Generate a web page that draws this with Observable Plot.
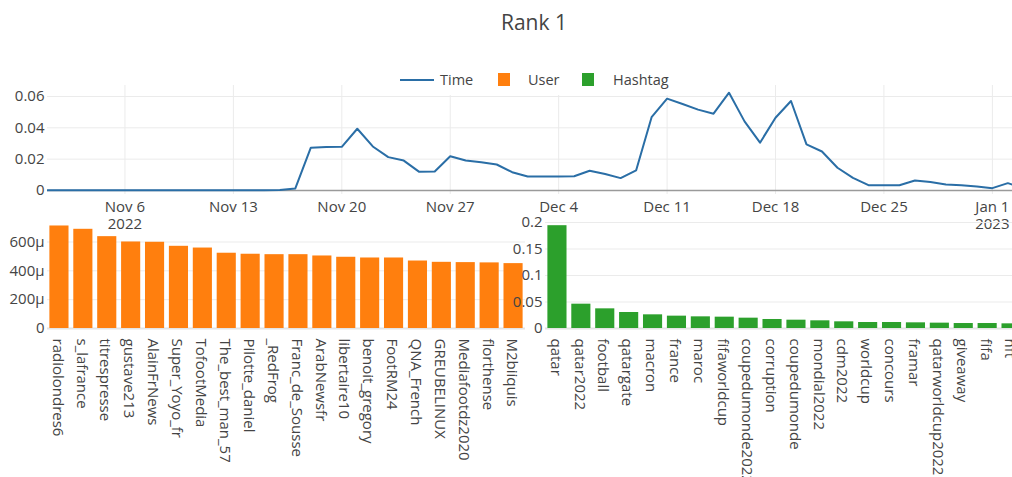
<!DOCTYPE html>
<html>
<head>
<meta charset="utf-8">
<script src="https://cdn.jsdelivr.net/npm/d3@7"></script>
<script src="https://cdn.jsdelivr.net/npm/@observablehq/plot@0.6"></script>
<style>
  html, body { margin: 0; padding: 0; background: #fff; overflow: hidden; }
  #wrap { position: relative; width: 1012px; height: 477px; overflow: hidden; font-family: "Open Sans", sans-serif; color: #444; }
  .chart { position: absolute; }
  #title { position: absolute; left: 434px; width: 200px; top: 7px; text-align: center; font-size: 21px; line-height: 30px; color: #444; }
  #legendbox { position: absolute; left: 393px; top: 66px; width: 284px; height: 29px; background: #fff; }
  .lg { position: absolute; font-size: 14.5px; line-height: 20px; top: 70px; color: #444; white-space: nowrap; }
  .sw { position: absolute; }
</style>
</head>
<body>
<div id="wrap">
  <div id="topChart" class="chart" style="left:0;top:60px;width:1012px"></div>
  <div id="userChart" class="chart" style="left:0;top:200px;width:545px"></div>
  <div id="tagChart" class="chart" style="left:500px;top:200px;width:523px"></div>
  <div id="legendbox"></div>
  <div id="legend"></div>
  <div id="title">Rank 1</div>
</div>
<script>
// ---- data ----
const dates = [
  "2022-11-01","2022-11-02","2022-11-03","2022-11-04","2022-11-05","2022-11-06","2022-11-07","2022-11-08","2022-11-09","2022-11-10",
  "2022-11-11","2022-11-12","2022-11-13","2022-11-14","2022-11-15","2022-11-16","2022-11-17","2022-11-18","2022-11-19","2022-11-20",
  "2022-11-21","2022-11-22","2022-11-23","2022-11-24","2022-11-25","2022-11-26","2022-11-27","2022-11-28","2022-11-29","2022-11-30",
  "2022-12-01","2022-12-02","2022-12-03","2022-12-04","2022-12-05","2022-12-06","2022-12-07","2022-12-08","2022-12-09","2022-12-10",
  "2022-12-11","2022-12-12","2022-12-13","2022-12-14","2022-12-15","2022-12-16","2022-12-17","2022-12-18","2022-12-19","2022-12-20",
  "2022-12-21","2022-12-22","2022-12-23","2022-12-24","2022-12-25","2022-12-26","2022-12-27","2022-12-28","2022-12-29","2022-12-30",
  "2022-12-31","2023-01-01","2023-01-02","2023-01-03"
];
const timeValues = [
  0.0001,0.0001,0.0001,0.0001,0.0002,0.0002,0.0002,0.0002,0.0002,0.0001,
  0.0001,0.0001,0.0001,0.0001,0.0002,0.0003,0.0013,0.0273,0.0278,0.0279,
  0.0394,0.0281,0.0213,0.0191,0.0119,0.0121,0.0219,0.0191,0.0181,0.0166,
  0.0117,0.0089,0.0090,0.0090,0.0091,0.0126,0.0105,0.0079,0.0128,0.0468,
  0.0586,0.0552,0.0516,0.0490,0.0624,0.0441,0.0305,0.0464,0.0571,0.0294,
  0.0249,0.0145,0.0081,0.0034,0.0034,0.0034,0.0064,0.0054,0.0039,0.0034,
  0.0026,0.0015,0.0047,0.0015
];
const timeTickDates = ["2022-11-06","2022-11-13","2022-11-20","2022-11-27","2022-12-04","2022-12-11","2022-12-18","2022-12-25","2023-01-01"];
const timeTickLabels = ["Nov 6\n2022","Nov 13","Nov 20","Nov 27","Dec 4","Dec 11","Dec 18","Dec 25","Jan 1\n2023"];
const timeYTicks = [0, 0.02, 0.04, 0.06];

const users = ["radiolondres6","s_lafrance","titrespresse","gustave213","AlainFrNews","Super_Yoyo_fr","TofootMedia","The_best_man_57","Pilotte_daniel","_RedFrog",
  "Franc_de_Sousse","ArabNewsfr","libertaire10","benoit_gregory","FootRM24","QNA_French","GREUBELINUX","Mediafootdz2020","florthense","M2biiquis"];
const userValues = [0.000711,0.000688,0.000637,0.000600,0.000598,0.000570,0.000558,0.000522,0.000515,0.000512,
  0.000512,0.000503,0.000494,0.000489,0.000489,0.000468,0.000459,0.000457,0.000455,0.000450];
const userYTicks = [0, 0.0002, 0.0004, 0.0006];

const hashtags = ["qatar","qatar2022","football","qatargate","macron","france","maroc","fifaworldcup","coupedumonde2022","corruption",
  "coupedumonde","mondial2022","cdm2022","worldcup","concours","framar","qatarworldcup2022","giveaway","fifa","nft"];
const hashtagValues = [0.194,0.0459,0.0371,0.0302,0.0258,0.0233,0.0220,0.0214,0.0195,0.0170,
  0.0157,0.0145,0.0126,0.0113,0.0113,0.0107,0.0101,0.0094,0.0094,0.0088];
const hashtagYTicks = [0, 0.05, 0.1, 0.15, 0.2];

const legendNames = ["Time","User","Hashtag"];
const colors = {Time: "#2a6ea6", User: "#ff7f0e", Hashtag: "#2ca02c"};

// ---- tables ----
const timeData = dates.map((d, i) => ({date: new Date(d + "T00:00:00Z"), value: timeValues[i]}));
const tickDates = timeTickDates.map(d => new Date(d + "T00:00:00Z"));
const tickLabelMap = new Map(tickDates.map((d, i) => [+d, timeTickLabels[i]]));
const userData = users.map((u, i) => ({name: u, value: userValues[i]}));
const tagData = hashtags.map((h, i) => ({name: h, value: hashtagValues[i]}));

const baseStyle = {background: "transparent", overflow: "visible", maxWidth: "none", color: "#444", fontFamily: "'Open Sans', sans-serif", fontSize: "15px"};
const grid = "#ebebeb";

// ---- top: time line ----
const timePlot = Plot.plot({
  width: 1012, height: 180,
  marginLeft: 47, marginRight: 0, marginTop: 25, marginBottom: 46,
  style: baseStyle,
  x: {type: "utc", domain: [new Date("2022-11-01T00:00:00Z"), new Date("2023-01-02T07:12:00Z")]},
  y: {domain: [-0.00255, 0.067]},
  marks: [
    Plot.gridY(timeYTicks.filter(d => d > 0), {stroke: grid, strokeOpacity: 1, strokeWidth: 1}),
    Plot.gridX(tickDates, {stroke: grid, strokeOpacity: 1, strokeWidth: 1}),
    Plot.ruleY([0], {stroke: "#9a9a9a", strokeWidth: 1.5}),
    Plot.lineY(timeData, {x: "date", y: "value", stroke: colors.Time, strokeWidth: 2, clip: true}),
    Plot.axisY({ticks: timeYTicks, tickFormat: d3.format("~g"), tickSize: 0, tickPadding: 3, fontSize: 15, label: null}),
    Plot.axisX({ticks: tickDates, tickFormat: d => tickLabelMap.get(+d), tickSize: 0, tickPadding: 5.5, fontSize: 15, lineHeight: 1.13, label: null})
  ]
});
document.getElementById("topChart").append(timePlot);

// ---- bottom-left: users ----
const userPlot = Plot.plot({
  width: 545, height: 277,
  marginLeft: 47, marginRight: 20, marginTop: 20, marginBottom: 149,
  style: baseStyle,
  x: {domain: users, paddingInner: 0.2, paddingOuter: 0.1, round: false},
  y: {domain: [0, 0.000749]},
  marks: [
    Plot.gridY(userYTicks.filter(d => d > 0), {stroke: grid, strokeOpacity: 1}),
    Plot.ruleY([0], {stroke: "#e4e4e4", strokeWidth: 2}),
    Plot.barY(userData, {x: "name", y: "value", fill: colors.User}),
    Plot.axisY({ticks: userYTicks, tickFormat: d3.format("~s"), tickSize: 0, tickPadding: 3, fontSize: 15, label: null}),
    Plot.axisX({tickRotate: 90, tickSize: 0, tickPadding: 10, fontSize: 15, label: null, dx: -2})
  ]
});
document.getElementById("userChart").append(userPlot);

// ---- bottom-right: hashtags ----
const tagPlot = Plot.plot({
  width: 523, height: 277,
  marginLeft: 45, marginRight: 0, marginTop: 20, marginBottom: 149,
  style: baseStyle,
  x: {domain: hashtags, paddingInner: 0.2, paddingOuter: 0.1, round: false},
  y: {domain: [0, 0.2038]},
  marks: [
    Plot.gridY(hashtagYTicks.filter(d => d > 0), {stroke: grid, strokeOpacity: 1}),
    Plot.ruleY([0], {stroke: "#e4e4e4", strokeWidth: 2}),
    Plot.barY(tagData, {x: "name", y: "value", fill: colors.Hashtag}),
    Plot.axisY({ticks: hashtagYTicks, tickFormat: d3.format("~g"), tickSize: 0, tickPadding: 3, fontSize: 15, label: null}),
    Plot.axisX({tickRotate: 90, tickSize: 0, tickPadding: 10, fontSize: 15, label: null, dx: -2})
  ]
});
document.getElementById("tagChart").append(tagPlot);

// ---- legend ----
const legendEl = document.getElementById("legend");
const legendLayout = {Time: {sw: 400, tx: 440}, User: {sw: 498, tx: 528}, Hashtag: {sw: 582, tx: 613}};
legendNames.forEach(name => {
  const sw = document.createElement("div");
  sw.className = "sw";
  const L = legendLayout[name];
  if (name === "Time") {
    Object.assign(sw.style, {left: L.sw + "px", top: "79px", width: "34px", height: "2px", background: colors[name]});
  } else {
    Object.assign(sw.style, {left: L.sw + "px", top: "73px", width: "12px", height: "13px", background: colors[name]});
  }
  legendEl.append(sw);
  const t = document.createElement("div");
  t.className = "lg";
  t.style.left = L.tx + "px";
  t.textContent = name;
  legendEl.append(t);
});
</script>
</body>
</html>
